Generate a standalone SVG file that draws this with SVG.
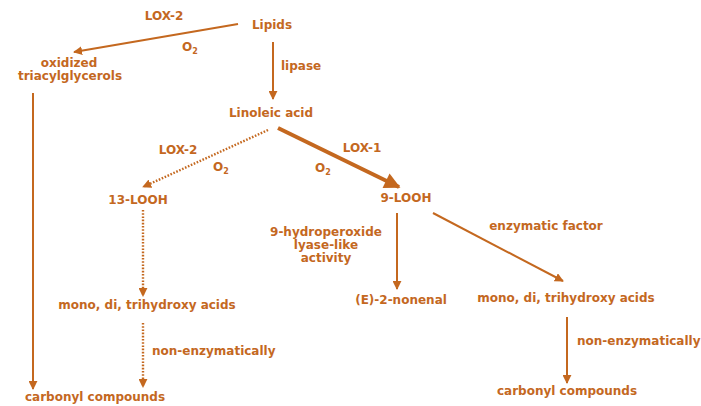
<svg xmlns="http://www.w3.org/2000/svg" width="701" height="406" viewBox="0 0 701 406">
<defs>
<style>
text{font-family:"DejaVu Sans","Liberation Sans",sans-serif;font-weight:bold;font-size:12px;fill:#c4681f}
.m{text-anchor:middle}
.sub{font-size:8px}
.c{stroke:#c4681f;stroke-width:2;fill:none}
.d{stroke-dasharray:1.6 1.6;stroke-width:2.4}
.t{stroke-width:4}
</style>
<marker id="ah" viewBox="0 0 10 10" refX="9" refY="5" markerWidth="9" markerHeight="9" markerUnits="userSpaceOnUse" orient="auto"><path d="M0,0L10,5L0,10z" fill="#c4681f"/></marker>
<marker id="ahb" viewBox="0 0 10 10" refX="9" refY="5" markerWidth="18" markerHeight="16" markerUnits="userSpaceOnUse" orient="auto"><path d="M0,0L10,5L0,10z" fill="#c4681f"/></marker>
</defs>
<rect width="701" height="406" fill="#fff"/>
<g id="connectors">
<line class="c" x1="238" y1="24" x2="74" y2="52" marker-end="url(#ah)"/>
<line class="c" x1="273" y1="42" x2="273" y2="99" marker-end="url(#ah)"/>
<line class="c" x1="33" y1="93" x2="33" y2="389" marker-end="url(#ah)"/>
<line class="c d" x1="268" y1="130" x2="143" y2="187" marker-end="url(#ah)"/>
<line class="c t" x1="278" y1="128" x2="399" y2="187" marker-end="url(#ahb)"/>
<line class="c d" x1="143" y1="210" x2="143" y2="296" marker-end="url(#ah)"/>
<line class="c d" x1="143" y1="323" x2="143" y2="387" marker-end="url(#ah)"/>
<line class="c" x1="397" y1="213" x2="397" y2="289" marker-end="url(#ah)"/>
<line class="c" x1="433" y1="213" x2="563" y2="281" marker-end="url(#ah)"/>
<line class="c" x1="567" y1="317" x2="567" y2="383" marker-end="url(#ah)"/>
</g>
<g id="labels">
<text class="m" x="164" y="20">LOX-2</text>
<text x="182" y="51">O<tspan class="sub" dy="3">2</tspan></text>
<text x="281" y="70">lipase</text>
<text class="m" x="178" y="154">LOX-2</text>
<text x="213" y="171">O<tspan class="sub" dy="3">2</tspan></text>
<text class="m" x="362" y="152">LOX-1</text>
<text x="315" y="172">O<tspan class="sub" dy="3">2</tspan></text>
<text class="m" x="326" y="236">9-hydroperoxide</text>
<text class="m" x="326" y="249">lyase-like</text>
<text class="m" x="326" y="262">activity</text>
<text class="m" x="546" y="230">enzymatic factor</text>
<text x="152" y="355">non-enzymatically</text>
<text x="577" y="345">non-enzymatically</text>
</g>
<g id="lipids"><text class="m" x="272" y="29">Lipids</text></g>
<g id="oxidized"><text class="m" x="69" y="67">oxidized</text><text class="m" x="70" y="80">triacylglycerols</text></g>
<g id="linoleic"><text class="m" x="271" y="117">Linoleic acid</text></g>
<g id="looh13"><text class="m" x="138" y="204">13-LOOH</text></g>
<g id="looh9"><text class="m" x="406" y="202">9-LOOH</text></g>
<g id="nonenal"><text class="m" x="401" y="304">(E)-2-nonenal</text></g>
<g id="mono-left"><text class="m" x="147" y="309">mono, di, trihydroxy acids</text></g>
<g id="mono-right"><text class="m" x="566" y="302">mono, di, trihydroxy acids</text></g>
<g id="carbonyl-left"><text class="m" x="95" y="401">carbonyl compounds</text></g>
<g id="carbonyl-right"><text class="m" x="567" y="395">carbonyl compounds</text></g>
</svg>
